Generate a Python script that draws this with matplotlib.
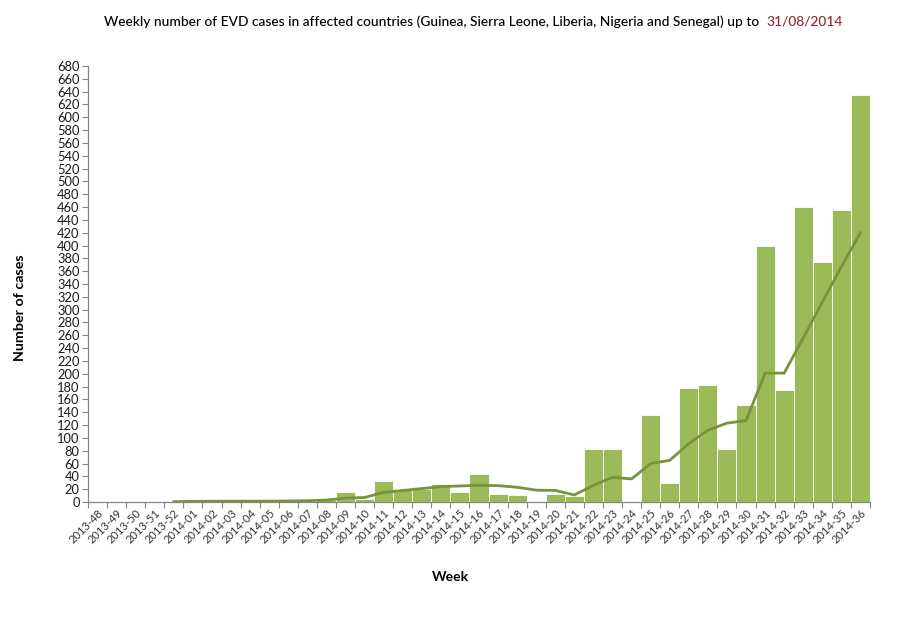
import matplotlib
matplotlib.use("Agg")
import matplotlib.pyplot as plt
import numpy as np

WEEKS = (
    [f"2013-{w}" for w in range(48, 53)]
    + [f"2014-{w:02d}" for w in range(1, 37)]
)
CASES = [
    0, 0, 0, 0, 1,
    2, 1, 1, 1, 1, 2, 2, 3,
    15, 5, 33, 18, 21, 28, 15, 43, 13, 11, 1, 13, 10,
    82, 83, 0, 135, 30, 178, 183, 82, 151, 400, 175, 460, 374, 456, 634,
]
TREND = [
    np.nan, np.nan, np.nan, np.nan, 0.5,
    1, 1.2, 1.3, 1.3, 1.4, 1.6, 2, 3,
    6, 7, 15, 18, 21, 24, 25, 26, 25.5, 23, 18.5, 18, 11,
    26, 38.5, 36, 60, 65, 91, 112, 123, 127, 201, 201, 256, 312, 367, 420,
]

TITLE = "Weekly number of EVD cases in affected countries (Guinea, Sierra Leone, Liberia, Nigeria and Senegal) up to  "
DATE = "31/08/2014"

BAR_COLOR = "#9bbb59"
LINE_COLOR = "#77933c"
AXIS_COLOR = "#868686"

plt.rcParams["font.family"] = ["Lato", "DejaVu Sans"]

fig = plt.figure(figsize=(9, 6.2), dpi=100)
ax = fig.add_axes([88 / 900, 1 - 502 / 620, (870 - 88) / 900, (502 - 66) / 620])

x = np.arange(len(WEEKS))
ax.bar(x, CASES, width=1.0, color=BAR_COLOR, edgecolor="white", linewidth=0.6, zorder=2)
ax.plot(x, TREND, color=LINE_COLOR, lw=2.0, zorder=3)

ax.set_xlim(-0.5, len(WEEKS) - 0.5)
ax.set_ylim(0, 680)
ax.set_yticks(np.arange(0, 681, 20))
ax.tick_params(axis="y", labelsize=9.3, labelcolor="#1a1a1a", color=AXIS_COLOR,
               length=4, width=0.8, pad=2)

ax.set_xticks(x)
ax.set_xticklabels(WEEKS, rotation=45, ha="right", rotation_mode="anchor",
                   fontsize=8, color="#333333")
ax.tick_params(axis="x", which="major", length=0, pad=4)
ax.set_xticks(np.arange(-0.5, len(WEEKS), 1), minor=True)
ax.tick_params(axis="x", which="minor", length=4, width=0.8, color=AXIS_COLOR)

for side in ["top", "right"]:
    ax.spines[side].set_visible(False)
for side in ["left", "bottom"]:
    ax.spines[side].set_color(AXIS_COLOR)
    ax.spines[side].set_linewidth(0.9)

fig.text(20 / 900, 1 - 308 / 620, "Number of cases", rotation=90, ha="center", va="center",
         fontsize=10.3, fontweight="bold", color="black")
fig.text(450 / 900, 1 - 577 / 620, "Week", ha="center", va="center",
         fontsize=10, fontweight="bold", color="black")

t1 = fig.text(104 / 900, 1 - 22 / 620, TITLE, ha="left", va="center", fontsize=9.9,
              color="black", fontweight="medium")
ax.annotate(DATE, xy=(1, 0.5), xycoords=t1, ha="left", va="center",
            fontsize=9.9, fontweight="medium", color="#8b2a2a", annotation_clip=False)

fig.savefig("out.png", dpi=100, facecolor="white")
